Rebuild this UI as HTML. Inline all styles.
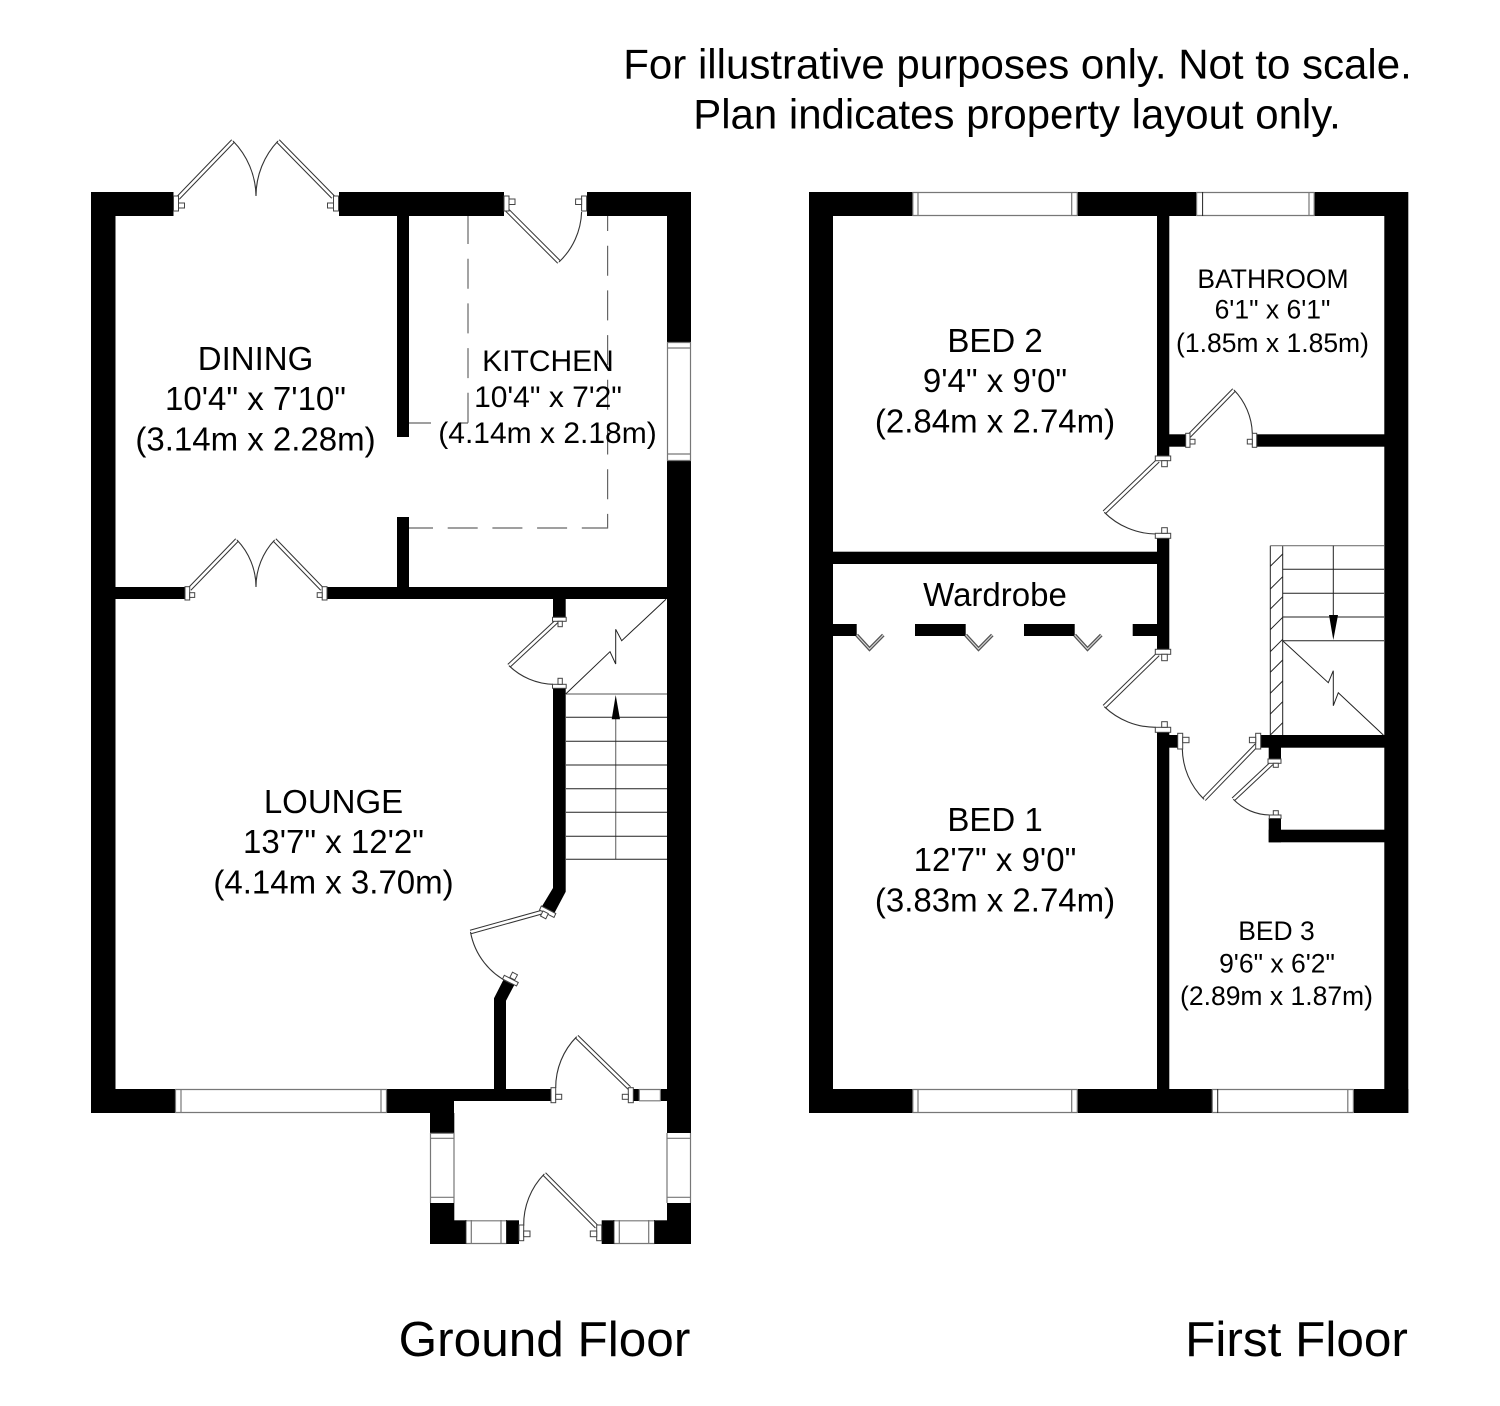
<!DOCTYPE html>
<html><head><meta charset="utf-8">
<style>
html,body{margin:0;padding:0;background:#fff}
svg{display:block}
text{font-family:"Liberation Sans",Arial,sans-serif;fill:#000}
.m{text-anchor:middle}
.f{fill:#fff;stroke:#444;stroke-width:1}
.t{fill:none;stroke:#222;stroke-width:1}
.g{fill:none;stroke:#777;stroke-width:1.2}
.a{fill:none;stroke:#333;stroke-width:1.1}
.lo{fill:none;stroke:#333;stroke-width:4.6}
.li{fill:none;stroke:#fff;stroke-width:2.6}
.wo{fill:none;stroke:#555;stroke-width:3.6}
.wi{fill:none;stroke:#ddd;stroke-width:1}
.d{fill:none;stroke:#666;stroke-width:1.2}
</style></head><body>
<svg width="1500" height="1406" viewBox="0 0 1500 1406" xmlns="http://www.w3.org/2000/svg">
<rect width="1500" height="1406" fill="#fff"/>

<!-- Headings -->
<text x="1017.5" y="78.5" class="m" font-size="41.3" textLength="788.5" lengthAdjust="spacingAndGlyphs">For illustrative purposes only. Not to scale.</text>
<text x="1017" y="128.5" class="m" font-size="41.3" textLength="647.5" lengthAdjust="spacingAndGlyphs">Plan indicates property layout only.</text>

<!-- ============ GROUND FLOOR ============ -->
<g fill="#000">
<rect x="91" y="192" width="82.5" height="24"/>
<rect x="339" y="192" width="165" height="24"/>
<rect x="587" y="192" width="104" height="24"/>
<rect x="91" y="192" width="24.5" height="921"/>
<rect x="667" y="192" width="24" height="150"/>
<rect x="667" y="461" width="24" height="672"/>
<rect x="397" y="216" width="12" height="221"/>
<rect x="397" y="517" width="12" height="70"/>
<rect x="115" y="587" width="70" height="12"/>
<rect x="327" y="587" width="340" height="12"/>
<rect x="553" y="599" width="12.7" height="18.5"/>
<polygon points="553,688 565.7,688 565.7,891.7 554.3,913.3 541.7,906.7 553,888"/>
<polygon points="503.3,980 514.3,985 506,1000.7 506,1089 494,1089 494,998.3"/>
<rect x="91" y="1089" width="84" height="24"/>
<rect x="387" y="1089" width="67" height="24"/>
<rect x="454" y="1089" width="97" height="12"/>
<rect x="430" y="1113" width="24.3" height="20"/>
<rect x="633.3" y="1089" width="5.7" height="12"/>
<rect x="660.7" y="1089" width="6.3" height="12"/>
<rect x="430" y="1203" width="24.3" height="41"/>
<rect x="430" y="1220.3" width="35.7" height="23.7"/>
<rect x="506.7" y="1220.3" width="12.3" height="23.7"/>
<rect x="601.7" y="1220.3" width="12" height="23.7"/>
<rect x="654.7" y="1220.3" width="36.3" height="23.7"/>
<rect x="667" y="1203" width="24" height="41"/>
</g>
<!-- ground windows -->
<path class="g" d="M175,1089.5H387M175,1112.5H387M175.5,1089V1113M181,1089V1113M381,1089V1113M386.5,1089V1113"/>
<path class="g" d="M667,342.5H691M667,348H691M667,454H691M667,460.5H691M667.5,342V461M690.5,342V461"/>
<path class="g" d="M430.5,1133V1203M454,1133V1203M430,1138.3H454M430,1197.3H454M430,1133.3H454"/>
<path class="g" d="M667,1133V1203M690.5,1133V1203M667,1138.3H691M667,1197.3H691"/>
<path class="g" d="M639,1089.5H660.7M639,1100.8H660.7M639.3,1089V1101M660.4,1089V1101"/>
<path class="g" d="M465.7,1220.8H506.7M465.7,1243.5H506.7M471.3,1220V1244M501,1220V1244"/>
<path class="g" d="M613.7,1220.8H654.7M613.7,1243.5H654.7M619.3,1220V1244M648.7,1220V1244"/>
<path class="t" d="M465.9,1220V1244M506.5,1220V1244M613.9,1220V1244M654.5,1220V1244"/>

<!-- kitchen dashes -->
<path class="d" stroke-dasharray="30 14.7" stroke-dashoffset="2" d="M468,216V423"/>
<path class="d" d="M409,423H431M460,423H468"/>
<path class="d" stroke-dasharray="30 14.7" stroke-dashoffset="15" d="M607.6,216V528.5"/>
<path class="d" stroke-dasharray="30 14.7" stroke-dashoffset="6" d="M409,528H608"/>

<!-- dining french door top -->
<path class="lo" d="M178,198L233,141M333,197L278,141"/><path class="li" d="M178,198L233,141M333,197L278,141"/>
<path class="a" d="M233,141A80,80 0 0 1 256,196M278,141A80,80 0 0 0 256,196"/>
<rect class="f" x="173.5" y="196" width="5" height="15"/><rect class="f" x="178.5" y="203" width="6" height="5"/>
<rect class="f" x="333.5" y="196" width="5" height="15"/><rect class="f" x="327.5" y="203" width="6" height="5"/>

<!-- kitchen back door -->
<path class="lo" d="M507,210L559,262"/><path class="li" d="M507,210L559,262"/>
<path class="a" d="M559,262A72,72 0 0 0 581.6,212"/>
<rect class="f" x="504" y="196" width="5" height="15"/><rect class="f" x="509" y="199" width="6" height="5.5"/>
<rect class="f" x="581.6" y="196" width="5" height="15"/><rect class="f" x="575.6" y="199" width="6" height="5.5"/>

<!-- dining/lounge french door -->
<path class="lo" d="M189.6,589L237,540M322,589L274.6,540"/><path class="li" d="M189.6,589L237,540M322,589L274.6,540"/>
<path class="a" d="M237,540A68,68 0 0 1 256,587M274.6,540A68,68 0 0 0 256,587"/>
<rect class="f" x="185" y="586.7" width="4.7" height="13.3"/><rect class="f" x="189.7" y="592.7" width="5" height="4.7"/>
<rect class="f" x="322.2" y="586.7" width="4.8" height="13.3"/><rect class="f" x="317.2" y="592.7" width="5" height="4.7"/>

<!-- under-stair door -->
<path class="lo" d="M556.7,621.3L509,665.7"/><path class="li" d="M556.7,621.3L509,665.7"/>
<path class="a" d="M509,665.7A66,66 0 0 0 553,684.3"/>
<rect class="f" x="552.5" y="617.3" width="13.7" height="4"/><rect class="f" x="558" y="621.3" width="4.3" height="5.4"/>
<rect class="f" x="552.5" y="684.3" width="13.7" height="4"/><rect class="f" x="558" y="678.3" width="4.3" height="6"/>

<!-- stairs ground -->
<path class="g" d="M566,694H667M615.7,700V859.3"/>
<path class="t" d="M566,717.3H667M566,741.3H667M566,765H667M566,788.7H667M566,812.3H667M566,836.3H667M566,859.3H667"/>
<polygon points="615.7,695 611.7,719.3 620,719.3" fill="#000"/>
<path class="t" d="M565.7,694L610,651.7L615.7,664V629.3L621.7,640.7L666,599.3"/>

<!-- lounge door -->
<path class="lo" d="M540.5,912.5L470.5,932"/><path class="li" d="M540.5,912.5L470.5,932"/>
<path class="a" d="M470.5,932A70,70 0 0 0 511,983.5"/>
<g class="f">
<polygon points="541.3,906 555.8,913.5 554,917.5 539.5,910"/>
<polygon points="543,910.9 548.3,913.6 545.8,918.8 540.5,916"/>
<polygon points="504.3,975.3 518.3,982.5 516.5,986 502.5,979"/>
<polygon points="512.5,972.2 517.5,974.8 514.7,980 509.8,977.5"/>
</g>

<!-- hall door -->
<path class="lo" d="M576.7,1036.7L629.3,1088"/><path class="li" d="M576.7,1036.7L629.3,1088"/>
<path class="a" d="M576.7,1036.7A72,72 0 0 0 555.7,1088"/>
<rect class="f" x="551" y="1087.7" width="4.7" height="15"/><rect class="f" x="555.7" y="1094.3" width="6" height="5"/>
<rect class="f" x="628.3" y="1087.7" width="5" height="15"/><rect class="f" x="622.3" y="1094.3" width="6" height="5"/>

<!-- porch door -->
<path class="lo" d="M544.3,1174L596.7,1226.7"/><path class="li" d="M544.3,1174L596.7,1226.7"/>
<path class="a" d="M544.3,1174A72,72 0 0 0 523.7,1225.7"/>
<rect class="f" x="519" y="1225" width="4.7" height="15.7"/><rect class="f" x="523.7" y="1231" width="6.3" height="5.7"/>
<rect class="f" x="596.7" y="1225" width="5" height="15.7"/><rect class="f" x="590.3" y="1231" width="6.4" height="5.7"/>

<!-- ground labels -->
<g font-size="33">
<text x="255.5" y="370" class="m">DINING</text>
<text x="255.5" y="410" class="m">10'4" x 7'10"</text>
<text x="255.5" y="450.5" class="m">(3.14m x 2.28m)</text>
<text x="333.5" y="813" class="m">LOUNGE</text>
<text x="333.5" y="853" class="m">13'7" x 12'2"</text>
<text x="333.5" y="893.5" class="m">(4.14m x 3.70m)</text>
</g>
<g font-size="30">
<text x="548" y="371" class="m">KITCHEN</text>
<text x="548" y="407" class="m">10'4" x 7'2"</text>
<text x="547.5" y="443" class="m">(4.14m x 2.18m)</text>
</g>
<text x="544.5" y="1356" class="m" font-size="49.5">Ground Floor</text>

<!-- ============ FIRST FLOOR ============ -->
<g fill="#000">
<rect x="809" y="192" width="103.5" height="24"/>
<rect x="1077.6" y="192" width="118.7" height="24"/>
<rect x="1314.5" y="192" width="93.5" height="24"/>
<rect x="809" y="192" width="24" height="921"/>
<rect x="1384.3" y="192" width="24" height="921"/>
<rect x="809" y="1089" width="103.5" height="24"/>
<rect x="1077.6" y="1089" width="134.4" height="24"/>
<rect x="1353.7" y="1089" width="54.6" height="24"/>
<rect x="1157" y="216" width="12.3" height="240"/>
<rect x="1169" y="434.3" width="17" height="12.4"/>
<rect x="1256.7" y="434.3" width="128" height="12.4"/>
<rect x="1157" y="538" width="12.3" height="111.3"/>
<rect x="833" y="551.7" width="325" height="12.3"/>
<rect x="833" y="624" width="23.7" height="12"/>
<rect x="915" y="624" width="50.7" height="12"/>
<rect x="1024" y="624" width="50.7" height="12"/>
<rect x="1132.7" y="624" width="25" height="12"/>
<rect x="1157" y="732" width="12.3" height="358"/>
<rect x="1169" y="735" width="9" height="12.7"/>
<rect x="1260.7" y="735" width="124" height="12.7"/>
<rect x="1268.7" y="747" width="12.3" height="12"/>
<rect x="1268.7" y="818" width="12.3" height="24.3"/>
<rect x="1268.7" y="829.7" width="116" height="12.6"/>
</g>
<!-- first floor windows -->
<path class="g" d="M912.5,192.5H1077.6M912.5,215.5H1077.6M912.8,192V216M918,192V216M1071.7,192V216M1077.3,192V216"/>
<path class="g" d="M1196.3,192.5H1314.5M1196.3,215.5H1314.5M1196.6,192V216M1309,192V216M1314.2,192V216"/>
<path class="t" d="M1202.6,192V216"/>
<path class="g" d="M912.5,1089.5H1077.6M912.5,1112.5H1077.6M912.8,1089V1113M918,1089V1113M1071.7,1089V1113M1077.3,1089V1113"/>
<path class="g" d="M1212,1089.5H1353.7M1212,1112.5H1353.7M1212.3,1089V1113M1347.8,1089V1113M1353.4,1089V1113"/>
<path class="t" d="M1217.7,1089V1113"/>

<!-- bathroom door -->
<path class="lo" d="M1189,436L1234,390"/><path class="li" d="M1189,436L1234,390"/>
<path class="a" d="M1234,390A65,65 0 0 1 1252.3,433.3"/>
<rect class="f" x="1185.7" y="433.3" width="4.3" height="14"/><rect class="f" x="1190" y="439.3" width="5" height="4.7"/>
<rect class="f" x="1252.3" y="433.3" width="4.4" height="14"/><rect class="f" x="1247.3" y="439.3" width="5" height="4.7"/>

<!-- bed 2 door -->
<path class="lo" d="M1158,460.7L1104.3,512.3"/><path class="li" d="M1158,460.7L1104.3,512.3"/>
<path class="a" d="M1104.3,512.3A74,74 0 0 0 1155.7,534"/>
<rect class="f" x="1155.3" y="456" width="15.4" height="4.7"/><rect class="f" x="1161.7" y="460.7" width="5.6" height="6"/>
<rect class="f" x="1155.3" y="533.3" width="15.4" height="5"/><rect class="f" x="1161.7" y="527.7" width="5.6" height="5.6"/>

<!-- bed 1 door -->
<path class="lo" d="M1158,654.3L1104.3,706.7"/><path class="li" d="M1158,654.3L1104.3,706.7"/>
<path class="a" d="M1104.3,706.7A74,74 0 0 0 1155.7,727.3"/>
<rect class="f" x="1155.3" y="649.3" width="15.4" height="5"/><rect class="f" x="1161.7" y="654.3" width="5.6" height="6.4"/>
<rect class="f" x="1155.3" y="727.3" width="15.4" height="5"/><rect class="f" x="1161.7" y="721.7" width="5.6" height="5.6"/>

<!-- bed 3 door -->
<path class="lo" d="M1256.7,745L1204,799.3"/><path class="li" d="M1256.7,745L1204,799.3"/>
<path class="a" d="M1204,799.3A72,72 0 0 1 1182.3,748.3"/>
<rect class="f" x="1177.7" y="733.3" width="5" height="15.7"/><rect class="f" x="1182.7" y="737.3" width="6.3" height="5.4"/>
<rect class="f" x="1255.7" y="733.3" width="5" height="15.7"/><rect class="f" x="1249.4" y="737.3" width="6.3" height="5.4"/>

<!-- cupboard door -->
<path class="lo" d="M1271.7,763.3L1233.3,799.3"/><path class="li" d="M1271.7,763.3L1233.3,799.3"/>
<path class="a" d="M1233.3,799.3A52,52 0 0 0 1270,815"/>
<rect class="f" x="1268" y="759" width="13" height="4.3"/><rect class="f" x="1273.3" y="763.3" width="5" height="4"/>
<rect class="f" x="1269.3" y="815" width="11.7" height="3.5"/><rect class="f" x="1273.3" y="810.7" width="5" height="4.3"/>

<!-- first floor stairs -->
<path class="t" d="M1270.3,735V545.7M1282.7,735V545.7"/>
<path class="g" d="M1270.3,545.7H1384"/>
<path class="t" d="M1282.7,569.3H1384M1282.7,593.3H1384M1282.7,617H1384M1282.7,640.7H1384M1333.3,545.7V620"/>
<polygon points="1333.3,640 1329,615 1338,615" fill="#000"/>
<path class="t" d="M1270.3,566.3L1282.7,554M1270.3,589L1282.7,576.7M1270.3,609L1282.7,596.7M1270.3,629.6L1282.7,617.3M1270.3,651.6L1282.7,639.3M1270.3,672.3L1282.7,660M1270.3,693.3L1282.7,681M1270.3,714L1282.7,701.7M1270.3,735L1282.7,722.7"/>
<path class="t" d="M1282.7,640.7L1328.3,682.7L1333.3,670.7V705.7L1338.3,692.7L1383.3,735"/>

<!-- wardrobe doors -->
<path class="wo" d="M856.7,635L869.5,649L883.3,635M965.7,635L978.5,649L992.3,635M1074.7,635L1087.5,649L1101.3,635"/>
<path class="wi" d="M856.7,635L869.5,649L883.3,635M965.7,635L978.5,649L992.3,635M1074.7,635L1087.5,649L1101.3,635"/>

<!-- first floor labels -->
<g font-size="33">
<text x="995" y="352" class="m">BED 2</text>
<text x="995" y="392" class="m">9'4" x 9'0"</text>
<text x="995" y="432.5" class="m">(2.84m x 2.74m)</text>
<text x="995" y="606" class="m">Wardrobe</text>
<text x="995" y="831" class="m">BED 1</text>
<text x="995" y="871" class="m">12'7" x 9'0"</text>
<text x="995" y="911.5" class="m">(3.83m x 2.74m)</text>
</g>
<g font-size="26.5">
<text x="1273" y="288" class="m">BATHROOM</text>
<text x="1272.5" y="318.5" class="m">6'1" x 6'1"</text>
<text x="1272.5" y="352" class="m">(1.85m x 1.85m)</text>
<text x="1276.5" y="940" class="m">BED 3</text>
<text x="1277" y="972.5" class="m">9'6" x 6'2"</text>
<text x="1276.5" y="1005" class="m">(2.89m x 1.87m)</text>
</g>
<text x="1296.5" y="1356" class="m" font-size="49.5">First Floor</text>
</svg>
</body></html>
